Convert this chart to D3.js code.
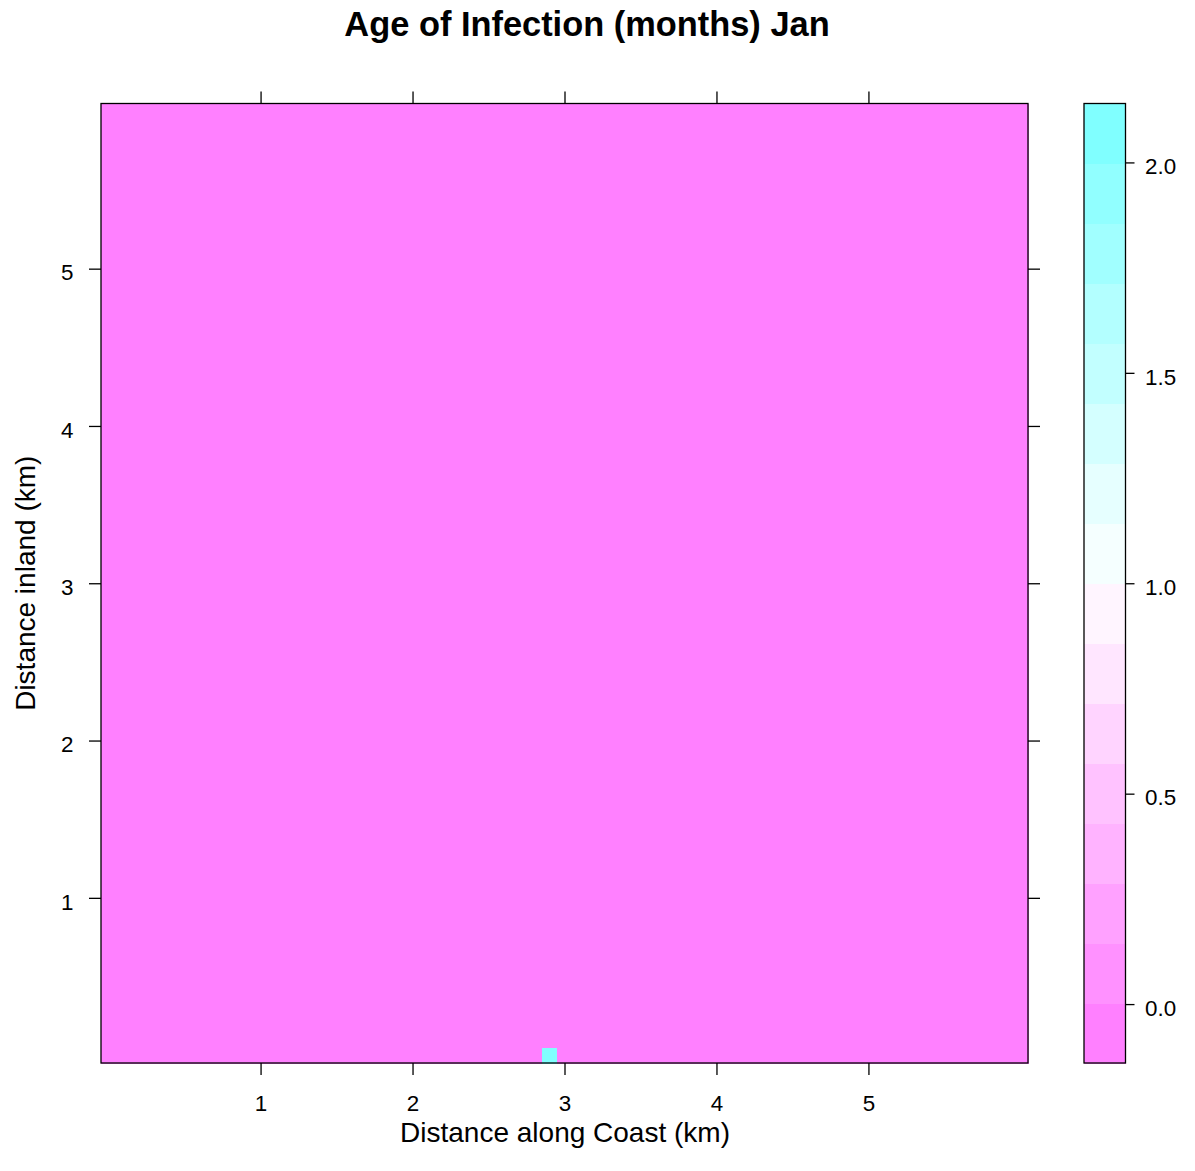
<!DOCTYPE html>
<html>
<head>
<meta charset="utf-8">
<title>Age of Infection (months) Jan</title>
<script src="https://cdn.jsdelivr.net/npm/d3@7"></script>
<style>
  html, body { margin: 0; padding: 0; background: #ffffff; }
  svg { display: block; font-family: "Liberation Sans", Arial, sans-serif; }
</style>
</head>
<body>
<svg id="chart" width="1195" height="1171"></svg>
<script>
// Grid of sampling sites: 0.1 km spacing along the coast and inland
const coastKm = d3.range(61).map(i => i / 10);
const inlandKm = d3.range(61).map(i => i / 10);

// Infected cells (coast km, inland km, age in months); every other cell is 0
const infectedCoast = [2.9];
const infectedInland = [0.0];
const infectedAge = [2.0];

// Axis tick values
const coastTicks = [1, 2, 3, 4, 5];
const inlandTicks = [1, 2, 3, 4, 5];
const keyTicks = [0.0, 0.5, 1.0, 1.5, 2.0];

// Pink-white-cyan region palette (16 levels)
const regionColors = [
  "#FF80FF", "#FF91FF", "#FFA1FF", "#FFB3FF", "#FFC2FF", "#FFD4FF", "#FFE6FF", "#FFF5FF",
  "#F5FFFF", "#E6FFFF", "#D4FFFF", "#C2FFFF", "#B3FFFF", "#A1FFFF", "#91FFFF", "#80FFFF"
];

// Build the full cell table
const cells = [];
for (const y of inlandKm) {
  for (const x of coastKm) {
    let age = 0;
    for (let k = 0; k < infectedCoast.length; k++) {
      if (Math.abs(infectedCoast[k] - x) < 1e-9 && Math.abs(infectedInland[k] - y) < 1e-9) age = infectedAge[k];
    }
    cells.push({ x, y, age });
  }
}

// Level breaks: data range padded by 7% on each side, split into 16 intervals
const zExt = d3.extent(cells, d => d.age);
const pad = 0.07 * (zExt[1] - zExt[0]);
const zLo = zExt[0] - pad, zHi = zExt[1] + pad;
const breaks = d3.range(regionColors.length + 1).map(i => zLo + i * (zHi - zLo) / regionColors.length);
const color = d3.scaleThreshold().domain(breaks.slice(1, -1)).range(regionColors);

const svg = d3.select("#chart");
const P = { left: 101, right: 1028, top: 103.5, bottom: 1063 };
const K = { left: 1084, right: 1125.5 };
const tickFont = 22.4;

const dx = coastKm[1] - coastKm[0];
const dy = inlandKm[1] - inlandKm[0];
const x = d3.scaleLinear()
  .domain([d3.min(coastKm) - dx / 2, d3.max(coastKm) + dx / 2])
  .range([P.left, P.right]);
const y = d3.scaleLinear()
  .domain([d3.min(inlandKm) - dy / 2, d3.max(inlandKm) + dy / 2])
  .range([P.bottom, P.top]);

// Heat cells
svg.append("g")
  .attr("shape-rendering", "crispEdges")
  .selectAll("rect")
  .data(cells)
  .join("rect")
  .attr("x", d => x(d.x - dx / 2))
  .attr("y", d => y(d.y + dy / 2))
  .attr("width", d => x(d.x + dx / 2) - x(d.x - dx / 2) + 0.5)
  .attr("height", d => y(d.y - dy / 2) - y(d.y + dy / 2) + 0.5)
  .attr("fill", d => color(d.age));

// Panel border
svg.append("rect")
  .attr("x", P.left).attr("y", P.top)
  .attr("width", P.right - P.left).attr("height", P.bottom - P.top)
  .attr("fill", "none").attr("stroke", "#000").attr("stroke-width", 1.3);

function styleAxis(g) {
  g.select(".domain").remove();
  g.selectAll(".tick line").attr("stroke", "#000").attr("stroke-width", 1.3);
  g.selectAll(".tick text").attr("fill", "#000").attr("font-size", tickFont).attr("font-family", "Liberation Sans, Arial, sans-serif");
}

const tickLen = 12;

// Bottom axis with labels
svg.append("g")
  .attr("transform", `translate(0,${P.bottom})`)
  .call(d3.axisBottom(x).tickValues(coastTicks).tickSize(tickLen).tickSizeOuter(0).tickFormat(d3.format("d")))
  .call(styleAxis)
  .call(g => g.selectAll(".tick text").attr("y", 40.5).attr("dy", "0.35em"));

// Top axis, ticks only
svg.append("g")
  .attr("transform", `translate(0,${P.top})`)
  .call(d3.axisTop(x).tickValues(coastTicks).tickSize(tickLen).tickSizeOuter(0).tickFormat(""))
  .call(styleAxis);

// Left axis with labels
svg.append("g")
  .attr("transform", `translate(${P.left},0)`)
  .call(d3.axisLeft(y).tickValues(inlandTicks).tickSize(tickLen).tickSizeOuter(0).tickFormat(d3.format("d")))
  .call(styleAxis)
  .call(g => g.selectAll(".tick text").attr("x", -27.5).attr("dy", "0.5em"));

// Right axis, ticks only
svg.append("g")
  .attr("transform", `translate(${P.right},0)`)
  .call(d3.axisRight(y).tickValues(inlandTicks).tickSize(tickLen).tickSizeOuter(0).tickFormat(""))
  .call(styleAxis);

// Colour key
const keyY = d3.scaleLinear().domain([zLo, zHi]).range([P.bottom, P.top]);
const bands = d3.range(regionColors.length).map(i => ({ lo: breaks[i], hi: breaks[i + 1], col: regionColors[i] }));
svg.append("g")
  .attr("shape-rendering", "crispEdges")
  .selectAll("rect")
  .data(bands)
  .join("rect")
  .attr("x", K.left)
  .attr("y", d => keyY(d.hi))
  .attr("width", K.right - K.left)
  .attr("height", d => keyY(d.lo) - keyY(d.hi) + 0.5)
  .attr("fill", d => d.col);

svg.append("rect")
  .attr("x", K.left).attr("y", P.top)
  .attr("width", K.right - K.left).attr("height", P.bottom - P.top)
  .attr("fill", "none").attr("stroke", "#000").attr("stroke-width", 1.3);

svg.append("g")
  .attr("transform", `translate(${K.right},0)`)
  .call(d3.axisRight(keyY).tickValues(keyTicks).tickSize(9).tickSizeOuter(0).tickFormat(d3.format(".1f")))
  .call(styleAxis)
  .call(g => g.selectAll(".tick text").attr("x", 19.5).attr("dy", "0.5em"));

// Title and axis labels
svg.append("text")
  .attr("x", 587).attr("y", 36)
  .attr("text-anchor", "middle")
  .attr("font-size", 34.4).attr("font-weight", "bold")
  .text("Age of Infection (months) Jan");

svg.append("text")
  .attr("x", 565).attr("y", 1142)
  .attr("text-anchor", "middle")
  .attr("font-size", 28)
  .text("Distance along Coast (km)");

svg.append("text")
  .attr("transform", `translate(35,${(P.top + P.bottom) / 2}) rotate(-90)`)
  .attr("text-anchor", "middle")
  .attr("font-size", 28)
  .text("Distance inland (km)");
</script>
</body>
</html>
